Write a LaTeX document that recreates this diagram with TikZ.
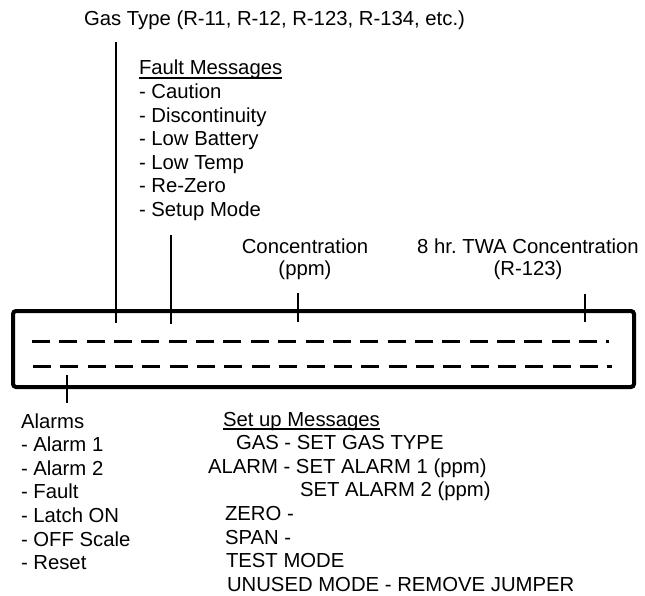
\documentclass[tikz,border=0pt]{standalone}
\usepackage{fontspec}
\setmainfont{Liberation Sans}
\frenchspacing
\begin{document}
\begin{tikzpicture}[x=1pt,y=-1pt,
  txt/.style={anchor=base west, inner sep=0pt, outer sep=0pt, font=\fontsize{20.3}{24}\selectfont},
  ctxt/.style={txt, anchor=base},
  lead/.style={line width=2.2pt},
  uline/.style={line width=1.6pt},
  dashrow/.style={line width=3pt, dash pattern=on 18pt off 9.35pt},
  displaybox/.style={draw, line width=4pt, rounded corners=3pt, minimum width=621pt, minimum height=76pt, inner sep=0pt}]
\useasboundingbox (0,0) rectangle (645,596);

% display box
\node[displaybox] (disp) at (323.5,349) {};
\coordinate (r1a) at (32,341);  \coordinate (r1b) at (609,341);
\coordinate (r2a) at (33,366);  \coordinate (r2b) at (612,366);
\draw[dashrow] (r1a) -- (r1b);
\draw[dashrow] (r2a) -- (r2b);

% gas type
\node[txt] (gas) at (84,26) {Gas Type (R-11, R-12, R-123, R-134, etc.)};
\coordinate (gtop) at (116,42); \coordinate (gbot) at (116,323);
\draw[lead] (gtop) -- (gbot);

% fault messages
\node[txt] (fh) at (139,75) {Fault Messages};
\draw[uline] ([yshift=-3pt]fh.base west) -- ([yshift=-3pt]fh.base east);
\foreach \t [count=\i] in {Caution, Discontinuity, Low Battery, Low Temp, Re-Zero, Setup Mode}
  \node[txt] (f\i) at (139,75+23.6*\i) {- \t};
\coordinate (ftop) at (171,235); \coordinate (fbot) at (171,324);
\draw[lead] (ftop) -- (fbot);

% concentration
\node[ctxt] (c1) at (305,253) {Concentration};
\node[ctxt] (c2) at (305,275) {(ppm)};
\coordinate (ctop) at (298,293); \coordinate (cbot) at (298,322);
\draw[lead] (ctop) -- (cbot);

% TWA
\node[ctxt] (t1) at (528,253) {8 hr. TWA Concentration};
\node[ctxt] (t2) at (528,275) {(R-123)};
\coordinate (ttop) at (585,294); \coordinate (tbot) at (585,322);
\draw[lead] (ttop) -- (tbot);

% alarms
\coordinate (atop) at (67,375); \coordinate (abot) at (67,403);
\draw[lead] (atop) -- (abot);
\node[txt] (al) at (21,428) {Alarms};
\foreach \t [count=\i] in {Alarm 1, Alarm 2, Fault, Latch ON, OFF Scale, Reset}
  \node[txt] (a\i) at (21,428+23.6*\i) {- \t};

% set up messages
\node[txt] (sh) at (223,426) {Set up Messages};
\draw[uline] ([yshift=-3pt]sh.base west) -- ([yshift=-3pt]sh.base east);
\node[txt] (s1) at (236,449.6) {GAS - SET GAS TYPE};
\node[txt] (s2) at (208,473.2) {ALARM - SET ALARM 1 (ppm)};
\node[txt] (s3) at (300,496.8) {SET ALARM 2 (ppm)};
\node[txt] (s4) at (225,520.4) {ZERO -};
\node[txt] (s5) at (225,544) {SPAN -};
\node[txt] (s6) at (226,567.6) {TEST MODE};
\node[txt] (s7) at (227,591.2) {UNUSED MODE - REMOVE JUMPER};
\end{tikzpicture}
\end{document}
